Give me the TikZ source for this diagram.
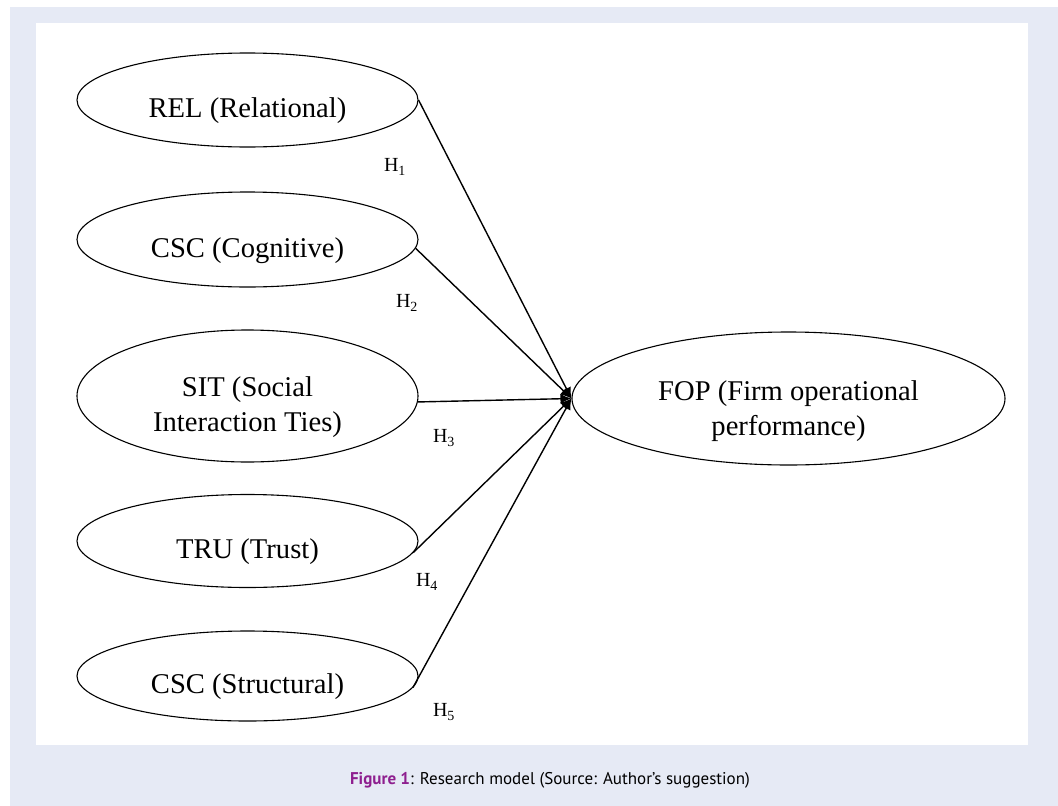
\documentclass[tikz,border=0pt]{standalone}
\usepackage{fontspec}
\setmainfont{Liberation Serif}
\newfontfamily\capfont{PT Sans}
\usetikzlibrary{arrows.meta,shapes.geometric}
\definecolor{pagebg}{HTML}{E6EAF5}
\definecolor{figpurple}{HTML}{8E1F8F}
\newcommand\lowtext[2][17pt]{\raisebox{-#1}[0pt][0pt]{\begin{tabular}{@{}c@{}}#2\end{tabular}}}

\begin{document}
\begin{tikzpicture}[x=1pt,y=-1pt,
        construct/.style={ellipse,draw,line width=1.1pt,inner sep=0pt,minimum width=341pt,font=\fontsize{28.6}{35}\selectfont},
        hyp/.style={font=\fontsize{20}{22}\selectfont,inner sep=0pt},
        link/.style={line width=1.4pt,-{Latex[length=11pt,width=10pt]}}]
        \fill[white] (0,0) rectangle (1058,806);
        \fill[pagebg] (10,7) rectangle (1058,806);
        \fill[white] (36,23) rectangle (1028,745);
        \useasboundingbox (0,0) rectangle (1058,806);

        \foreach \n/\y/\h/\txt in {rel/100/94/REL (Relational),csca/239.5/95/CSC (Cognitive),sit/396/132/SIT (Social\\Interaction Ties),tru/541/93/TRU (Trust),cscb/676/90/CSC (Structural)}
            \node[construct,minimum height=\h pt] (\n) at (247.5,\y) {\lowtext{\txt}};
        \node[construct,minimum width=433pt,minimum height=133pt] (fop) at (788.5,398.5) {\lowtext[19pt]{FOP (Firm operational\\performance)}};

        \foreach \n/\a in {rel/0,csca/-3,sit/-2,tru/-4,cscb/-4}
            \draw[link] (\n.\a) -- (fop.west);

        \foreach \i/\x/\y in {1/395/167,2/407/303,3/444/438,4/427/582,5/444/712}
            \node[hyp] (h\i) at (\x,\y) {H\textsubscript{\i}};

        \node (caption) at (550,780) {\capfont\fontsize{17}{20}\selectfont\textcolor{figpurple}{\bfseries Figure 1}: Research model (Source: Author’s suggestion)};
    \end{tikzpicture}
\end{document}
